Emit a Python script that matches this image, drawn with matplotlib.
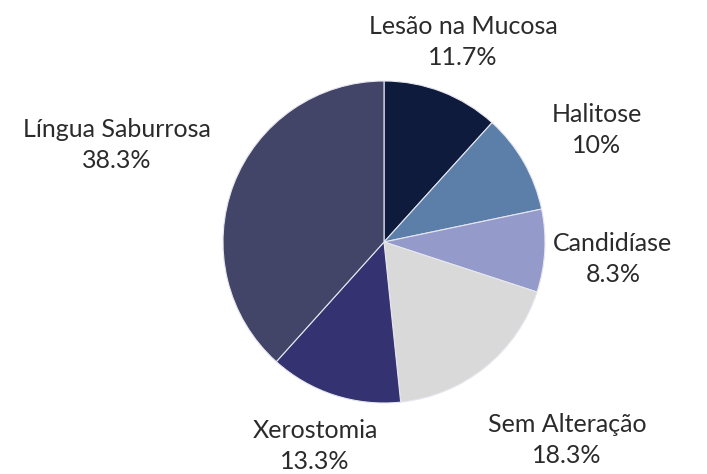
import numpy as np
import matplotlib.pyplot as plt

# dados
categorias = ['Lesão na Mucosa', 'Halitose', 'Candidíase', 'Sem Alteração', 'Xerostomia', 'Língua Saburrosa']
percentuais = [11.7, 10, 8.3, 18.3, 13.3, 38.3]
cores = ['#0e1b3d', '#5b7fa9', '#949bca', '#d9d9d9', '#343271', '#424468']

# centro de cada rotulo (pixels, a partir do canto superior esquerdo)
pos_rotulo = [(463, 42), (597, 130), (613, 259), (567, 440), (315, 446), (117, 145)]

plt.rcParams['font.family'] = ['Lato', 'DejaVu Sans']

fig = plt.figure(figsize=(7.07, 4.74), dpi=100)
ax = fig.add_axes([0, 0, 1, 1])

cx, cy, raio = 384, 474 - 242, 161
wedges, _ = ax.pie(percentuais, colors=cores, startangle=90, counterclock=False,
                   center=(cx, cy), radius=raio,
                   wedgeprops=dict(edgecolor='#e6e6ef', linewidth=0.8))
ax.set_xlim(0, 707)
ax.set_ylim(0, 474)
ax.set_aspect('equal')
ax.axis('off')

for nome, v, (x, y) in zip(categorias, percentuais, pos_rotulo):
    ax.text(x, 474 - y, f'{nome}\n{v:g}%', ha='center', va='center', fontsize=18,
            color='#2b2b2b', linespacing=1.45)

fig.savefig('out.png', dpi=100)
